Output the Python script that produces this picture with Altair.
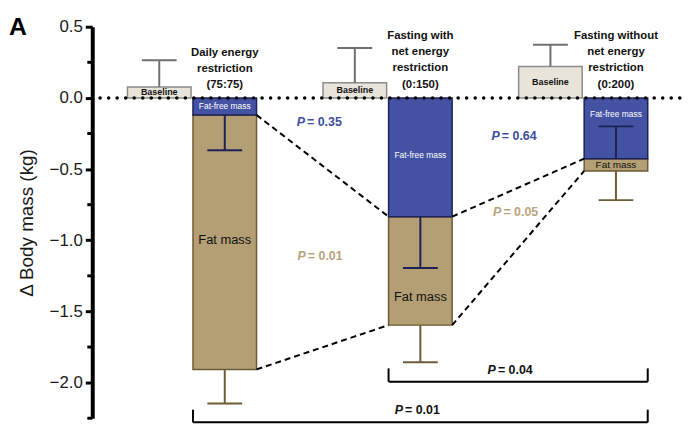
import altair as alt
import pandas as pd

# ---------------- data ----------------
group_titles = [
    "Daily energy\nrestriction\n(75:75)",
    "Fasting with\nnet energy\nrestriction\n(0:150)",
    "Fasting without\nnet energy\nrestriction\n(0:200)",
]
baseline_mean = [0.077, 0.107, 0.221]
baseline_upper = [0.265, 0.350, 0.374]
ffm_change = [-0.120, -0.834, -0.427]      # fat-free mass change (top segment)
ffm_err_end = [-0.367, -1.194, -0.200]
total_change = [-1.907, -1.596, -0.513]    # fat-free + fat mass change
fat_err_end = [-2.146, -1.856, -0.718]
p_ffm = ["0.35", "0.64"]
p_fat = ["0.01", "0.05"]
p_total = ["0.04", "0.01"]
y_ticks = [0.5, 0.0, -0.5, -1.0, -1.5, -2.0]
y_minor = [0.25, -0.25, -0.75, -1.25, -1.75, -2.25]

# ---------------- colours / fonts ----------------
BLUE = "#4352A3"
NAVY = "#1E2257"
TAN = "#B39F73"
BROWN = "#6E5B35"
BASE_FILL = "#E8E4DA"
BASE_STROKE = "#8C8C8C"
GREY = "#707070"
P_BLUE = "#3D4DA0"
P_TAN = "#B8A47C"
SANS = "Liberation Sans, Arial"

# ---------------- layout helpers ----------------
n = len(group_titles)
g = list(range(n))
HALF_GAP, BAR_W, CAP = 0.005, 0.325, 0.089

bars = pd.DataFrame({
    "g": g,
    "title": group_titles,
    "base": baseline_mean,
    "base_up": baseline_upper,
    "ffm": ffm_change,
    "ffm_err": ffm_err_end,
    "tot": total_change,
    "fat_err": fat_err_end,
    "ffm_lab_y": [-0.06, -0.40, -0.11],
    "fat_lab_y": [-1.00, -1.40, -0.47],
    "title_y": [0.36, 0.478, 0.478],
    "fat_lab": ["Fat mass", "Fat mass", "Fat mass"],
})
bars["zero"] = 0.0
bars["b0"] = bars.g - HALF_GAP - BAR_W
bars["b1"] = bars.g - HALF_GAP
bars["bc"] = (bars.b0 + bars.b1) / 2
bars["s0"] = bars.g + HALF_GAP
bars["s1"] = bars.g + HALF_GAP + BAR_W
bars["sc"] = (bars.s0 + bars.s1) / 2
bars["bc0"] = bars.bc - CAP
bars["bc1"] = bars.bc + CAP
bars["sc0"] = bars.sc - CAP
bars["sc1"] = bars.sc + CAP
bars["base_mid"] = bars.base / 2
bars["label_base"] = "Baseline"
bars["label_ffm"] = "Fat-free mass"

conn_rows = []
for i in range(n - 1):
    conn_rows.append({"x": bars.s1[i], "x2": bars.s0[i + 1], "y": ffm_change[i], "y2": ffm_change[i + 1]})
    conn_rows.append({"x": bars.s1[i], "x2": bars.s0[i + 1], "y": total_change[i], "y2": total_change[i + 1]})
conn = pd.DataFrame(conn_rows)

plabels = pd.DataFrame({
    "x": [0.535, 1.531, 0.539, 1.539, 1.511, 1.036],
    "y": [-0.172, -0.265, -1.108, -0.800, -1.914, -2.193],
    "val": ["= " + v for v in p_ffm + p_fat + p_total],
    "col": [P_BLUE, P_BLUE, P_TAN, P_TAN, "#111111", "#111111"],
})
plabels["P"] = "P"

brackets_h = pd.DataFrame({
    "x": [bars.s0[1], bars.s0[0]],
    "x2": [bars.s1[2], bars.s1[2]],
    "y": [-1.993, -2.279],
})
brackets_v = pd.DataFrame({
    "x": [bars.s0[1], bars.s1[2], bars.s0[0], bars.s1[2]],
    "y": [-1.993, -1.993, -2.279, -2.279],
    "y2": [-1.90, -1.90, -2.19, -2.19],
})
zero_line = pd.DataFrame({"x": [-0.47], "x2": [2.50], "y": [0.0]})
minor = pd.DataFrame({"v": y_minor})

# ---------------- scales / axes ----------------
xs = alt.Scale(domain=[-0.51, 2.49], nice=False, zero=False)
ys = alt.Scale(domain=[-2.25, 0.5], nice=False, zero=False)
yax = alt.Axis(
    values=y_ticks, format=".1f", grid=False,
    title="Δ Body mass (kg)", titleFont=SANS, titleFontSize=19, titleFontWeight="normal",
    titleColor="#1a1a1a", titlePadding=13,
    labelFont=SANS, labelFontSize=17, labelColor="#1a1a1a", labelPadding=3,
    tickSize=7, tickWidth=3, tickColor="black",
    domainWidth=4, domainColor="black",
)


def X(f):
    return alt.X(f, type="quantitative", scale=xs, axis=None)


def Y(f):
    return alt.Y(f, type="quantitative", scale=ys, axis=yax)


base = alt.Chart(bars)

baseline_bars = base.mark_rect(fill=BASE_FILL, stroke=BASE_STROKE, strokeWidth=1.5).encode(
    x=X("b0"), x2="b1", y=Y("zero"), y2="base")
baseline_err = base.mark_rule(color=GREY, strokeWidth=2).encode(x=X("bc"), y=Y("base"), y2="base_up")
baseline_cap = base.mark_rule(color=GREY, strokeWidth=2).encode(x=X("bc0"), x2="bc1", y=Y("base_up"))

fat_bars = base.mark_rect(fill=TAN, stroke=BROWN, strokeWidth=1.5).encode(
    x=X("s0"), x2="s1", y=Y("ffm"), y2="tot")
ffm_bars = base.mark_rect(fill=BLUE, stroke=NAVY, strokeWidth=1.5).encode(
    x=X("s0"), x2="s1", y=Y("zero"), y2="ffm")
fat_err = base.mark_rule(color=BROWN, strokeWidth=2).encode(x=X("sc"), y=Y("tot"), y2="fat_err")
fat_cap = base.mark_rule(color=BROWN, strokeWidth=2).encode(x=X("sc0"), x2="sc1", y=Y("fat_err"))
ffm_err = base.mark_rule(color=NAVY, strokeWidth=2).encode(x=X("sc"), y=Y("ffm"), y2="ffm_err")
ffm_cap = base.mark_rule(color=NAVY, strokeWidth=2).encode(x=X("sc0"), x2="sc1", y=Y("ffm_err"))

connectors = alt.Chart(conn).mark_rule(color="black", strokeWidth=2, strokeDash=[6, 4]).encode(
    x=X("x"), x2="x2", y=Y("y"), y2="y2")

base_text = base.mark_text(font=SANS, fontSize=9, fontWeight="bold", color="#111111").encode(
    x=X("bc"), y=Y("base_mid"), text="label_base")
ffm_text = base.mark_text(font=SANS, fontSize=8.5, color="white").encode(
    x=X("sc"), y=Y("ffm_lab_y"), text="label_ffm")
fat_text = base.mark_text(font=SANS, color="#111111").encode(
    x=X("sc"), y=Y("fat_lab_y"), text="fat_lab",
    size=alt.condition("datum.g == 2", alt.value(10), alt.value(13)))
titles = base.mark_text(font=SANS, fontSize=11.5, fontWeight="bold", color="#111111",
                        lineBreak="\n", lineHeight=16.5, baseline="top").encode(
    x=X("sc"), y=Y("title_y"), text="title")

p_letter = alt.Chart(plabels).mark_text(font=SANS, fontSize=12.5, fontWeight="bold", fontStyle="italic",
                                        align="left").encode(
    x=X("x"), y=Y("y"), text="P", color=alt.Color("col:N", scale=None))
p_value = alt.Chart(plabels).mark_text(font=SANS, fontSize=12.5, fontWeight="bold", align="left", dx=10.5).encode(
    x=X("x"), y=Y("y"), text="val", color=alt.Color("col:N", scale=None))

br_h = alt.Chart(brackets_h).mark_rule(color="black", strokeWidth=2).encode(x=X("x"), x2="x2", y=Y("y"))
br_v = alt.Chart(brackets_v).mark_rule(color="black", strokeWidth=2).encode(x=X("x"), y=Y("y"), y2="y2")

dots = alt.Chart(zero_line).mark_rule(color="black", strokeWidth=3.5, strokeDash=[0.1, 8.5],
                                      strokeCap="round").encode(x=X("x"), x2="x2", y=Y("y"))

minor_ticks = alt.Chart(minor).mark_rule(color="black", strokeWidth=3).encode(
    y=Y("v"), x=alt.value(-5), x2=alt.value(0))

panel = alt.Chart(pd.DataFrame({"t": ["A"]})).mark_text(
    font=SANS, fontSize=25, fontWeight="bold", align="left", baseline="alphabetic", color="black").encode(
    text="t", x=alt.value(-84), y=alt.value(8))

chart = alt.layer(
    baseline_bars, baseline_err, baseline_cap,
    fat_bars, ffm_bars, fat_err, fat_cap, ffm_err, ffm_cap,
    connectors, base_text, ffm_text, fat_text, titles,
    p_letter, p_value, br_h, br_v, dots, minor_ticks, panel,
).properties(
    width=592, height=395,
    padding={"left": 85, "top": 17, "right": 3, "bottom": 12},
    autosize=alt.AutoSizeParams(type="none"),
).configure_view(stroke=None)

chart.save("out.html", embed_options={"renderer": "svg", "actions": False})
